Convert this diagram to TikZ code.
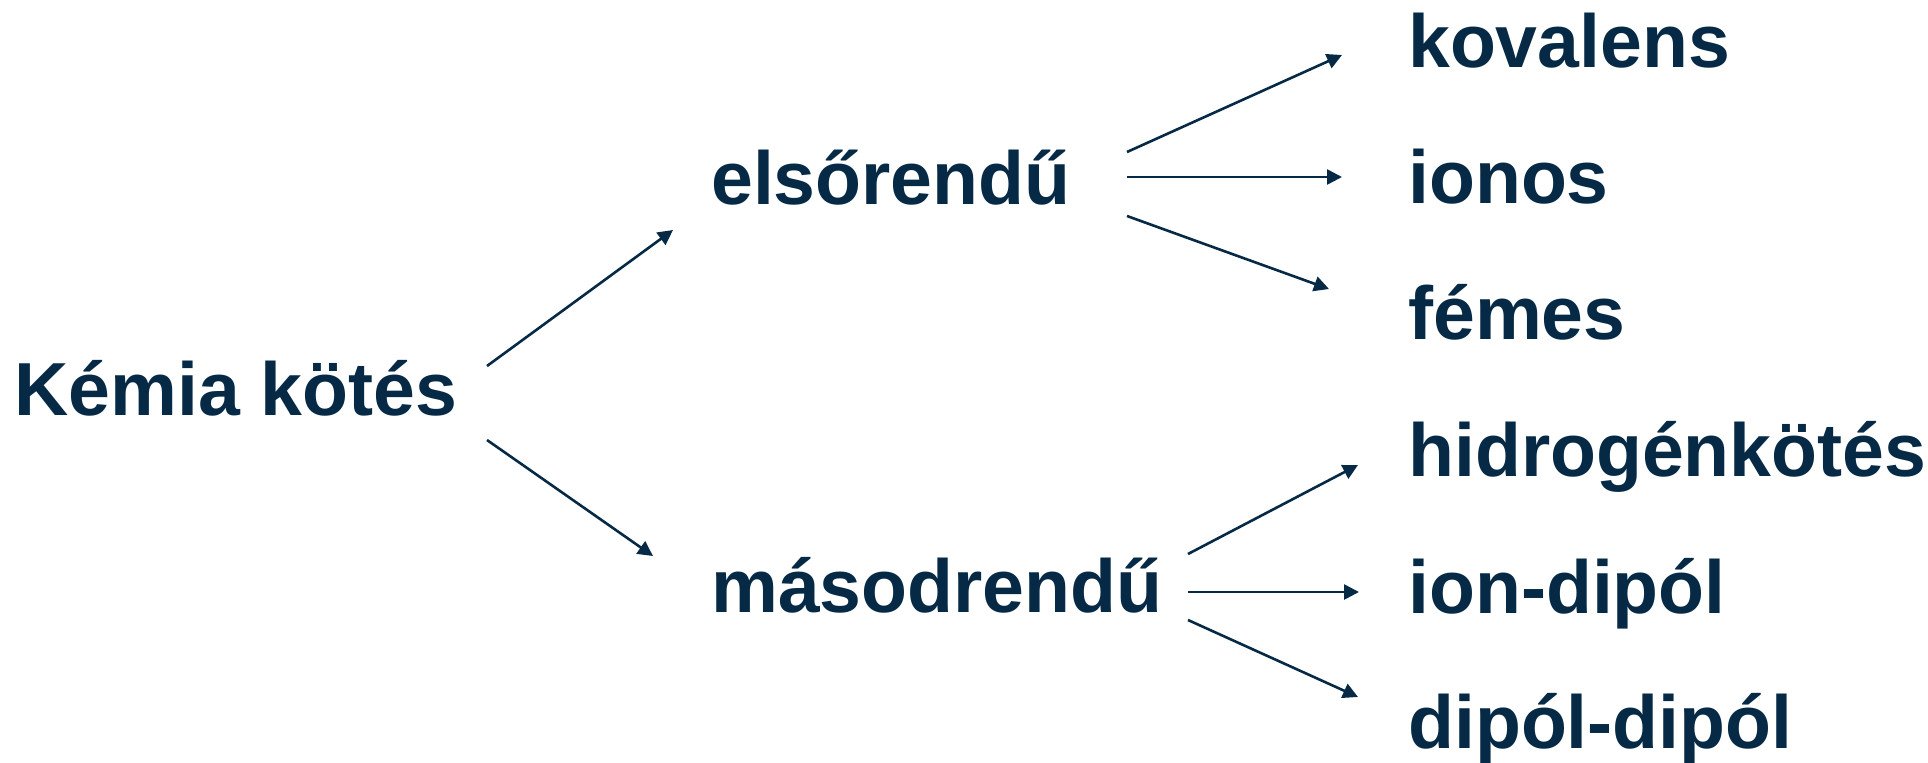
\documentclass[tikz,border=0pt]{standalone}
\usepackage{fontspec}
\setmainfont{Liberation Sans}
\usetikzlibrary{arrows.meta}
\definecolor{navy}{HTML}{062A46}
\begin{document}
\begin{tikzpicture}[x=1pt,y=-1pt,
  lbl/.style={anchor=base west,inner sep=0pt,text=navy,font=\fontsize{75.2}{82}\selectfont\bfseries},
  arr/.style={draw=navy,line width=2.6pt,-{Triangle[length=15pt,width=15pt]}}]
\useasboundingbox (0,0) rectangle (1928,763);
% nodes
\node[lbl] (kemia) at (14,415) {Kémia kötés};
\node[lbl] (elso) at (711,204) {elsőrendű};
\node[lbl] (masod) at (711,612) {másodrendű};
\node[lbl] (kov) at (1408,67) {kovalens};
\node[lbl] (ion) at (1408,203) {ionos};
\node[lbl] (fem) at (1408,339) {fémes};
\node[lbl] (hid) at (1408,476) {hidrogénkötés};
\node[lbl] (iondip) at (1408,613) {ion-dipól};
\node[lbl] (dipdip) at (1408,748) {dipól-dipól};
% connector end points
\coordinate (kA) at (487,366);
\coordinate (kB) at (487,440);
\coordinate (eIn) at (673,230);
\coordinate (mIn) at (653,556);
\coordinate (eO1) at (1127,152);
\coordinate (eO2) at (1127,177);
\coordinate (eO3) at (1127,216);
\coordinate (kovIn) at (1342,55);
\coordinate (ionIn) at (1342,177);
\coordinate (femIn) at (1329,289);
\coordinate (mO1) at (1188,554);
\coordinate (mO2) at (1188,592);
\coordinate (mO3) at (1188,620);
\coordinate (hidIn) at (1358,465);
\coordinate (idIn) at (1359,592);
\coordinate (ddIn) at (1358,697);
% connectors
\draw[arr] (kA) -- (eIn);
\draw[arr] (kB) -- (mIn);
\draw[arr] (eO1) -- (kovIn);
\draw[arr] (eO2) -- (ionIn);
\draw[arr] (eO3) -- (femIn);
\draw[arr] (mO1) -- (hidIn);
\draw[arr] (mO2) -- (idIn);
\draw[arr] (mO3) -- (ddIn);
\end{tikzpicture}
\end{document}
